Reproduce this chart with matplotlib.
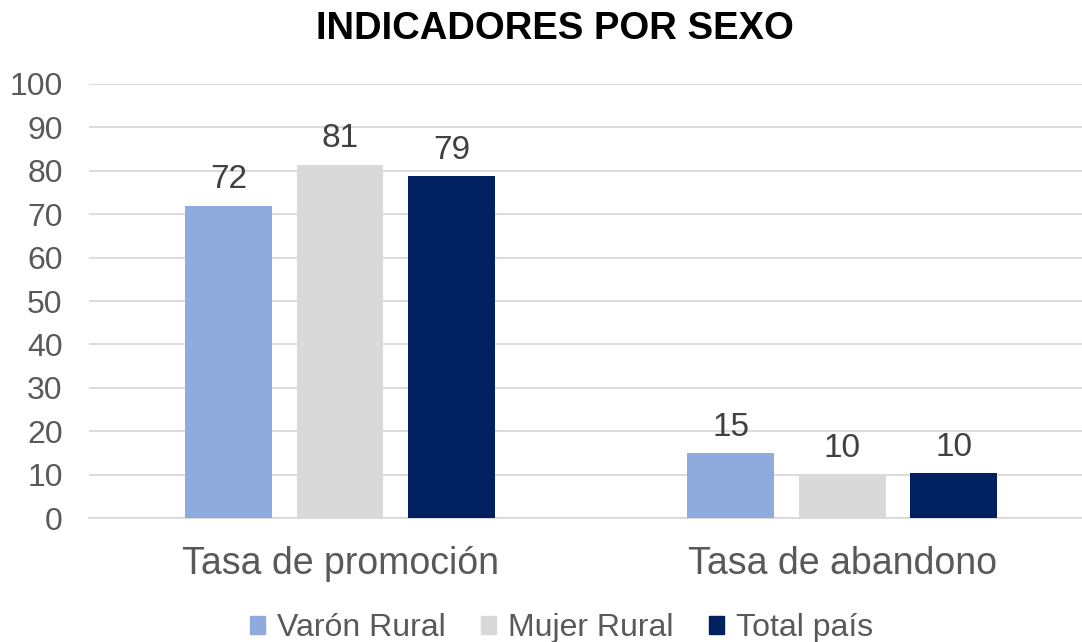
import numpy as np
import matplotlib.pyplot as plt
from matplotlib.patches import Patch

plt.rcParams['font.family'] = ['Liberation Sans', 'DejaVu Sans']

categorias = ["Tasa de promoción", "Tasa de abandono"]
series = ["Varón Rural", "Mujer Rural", "Total país"]
varon = [72.0, 15.0]
mujer = [81.4, 10.1]
total = [78.7, 10.3]
colores = ["#8faadc", "#d9d9d9", "#002060"]

fig = plt.figure(figsize=(10.82, 6.42), dpi=100)
ax = fig.add_axes([0.0823, 0.1931, 0.928, 0.6761])

x = np.arange(len(categorias))
ancho = 0.173
paso = 0.222
for i, (vals, col) in enumerate(zip([varon, mujer, total], colores)):
    barras = ax.bar(x + (i - 1) * paso, vals, ancho, color=col, zorder=3)
    for b, v in zip(barras, vals):
        ax.text(b.get_x() + b.get_width() / 2, v + 2.4, f"{v:.0f}",
                ha="center", va="bottom", fontsize=24, color="#404040")

ax.set_xlim(-0.5, 1.5)
ax.set_ylim(0, 100)
ax.set_yticks(range(0, 101, 10))
ax.yaxis.grid(True, color="#d9d9d9", linewidth=1.3, zorder=0)
ax.set_xticks(x)
ax.set_xticklabels(categorias, fontsize=27, color="#595959")
ax.tick_params(axis="y", labelsize=23, labelcolor="#595959", length=0, pad=19)
ax.tick_params(axis="x", length=0, pad=20)
for s in ["top", "right", "left"]:
    ax.spines[s].set_visible(False)
ax.spines["bottom"].set_color("#d9d9d9")
ax.spines["bottom"].set_linewidth(1.3)

fig.text(0.513, 0.955, "INDICADORES POR SEXO", ha="center", va="center",
         fontsize=27.5, fontweight="bold", color="black")

handles = [Patch(color=c, label=s) for c, s in zip(colores, series)]
leg = fig.legend(handles=handles, loc="lower center", bbox_to_anchor=(0.519, -0.047),
                 ncol=3, frameon=False, fontsize=23, handlelength=0.47,
                 handleheight=0.47, handletextpad=0.37, columnspacing=1.1)
for t in leg.get_texts():
    t.set_color("#595959")

fig.savefig("out.png", dpi=100)
